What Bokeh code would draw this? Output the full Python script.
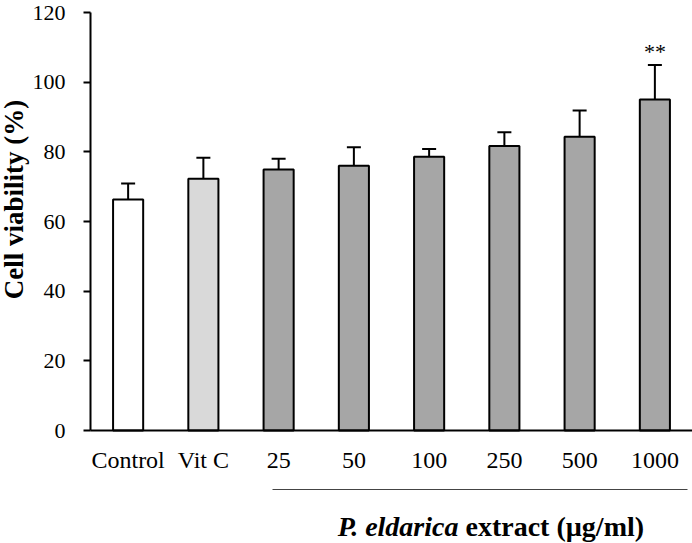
import math
from bokeh.plotting import figure
from bokeh.models import (Range1d, FixedTicker, LinearAxis, Whisker,
                          TeeHead, ColumnDataSource)
from bokeh.core.properties import value
from bokeh.embed import file_html
from bokeh.resources import INLINE

# ---- data ----
categories = ["Control", "Vit C", "25", "50", "100", "250", "500", "1000"]
viability = [66.3, 72.3, 74.9, 76.0, 78.6, 81.7, 84.3, 95.0]
sd = [4.6, 6.0, 3.1, 5.3, 2.2, 3.9, 7.6, 9.9]
fill_colors = ["#ffffff", "#d9d9d9", "#a6a6a6", "#a6a6a6",
               "#a6a6a6", "#a6a6a6", "#a6a6a6", "#a6a6a6"]
significance = ["", "", "", "", "", "", "", "**"]
y_ticks = [0, 20, 40, 60, 80, 100, 120]
group_label_italic = "P. eldarica"
group_label_rest = "extract (µg/ml)"
y_label = "Cell viability (%)"

FONT = "Liberation Serif"

# ---- layout (pixels) ----
W, H = 692, 543
AXIS_X = 90          # pixel column of the y axis
TOP_PX = 12          # pixel row of the top tick
ZERO_PX = 430        # pixel row of y = 0
n = len(categories)
px_per_cat = (W - AXIS_X) / n
px_per_unit = (ZERO_PX - TOP_PX) / (y_ticks[-1] - y_ticks[0])
x_start = -0.5 - AXIS_X / px_per_cat
y_end = y_ticks[-1] + TOP_PX / px_per_unit
y_start = -(H - ZERO_PX) / px_per_unit

xs = list(range(n))
upper = [v + e for v, e in zip(viability, sd)]
src = ColumnDataSource(dict(x=xs, top=viability, upper=upper,
                            color=fill_colors, sig=significance))

p = figure(width=W, height=H, output_backend="svg", toolbar_location=None,
           x_range=Range1d(x_start, n - 0.5),
           y_range=Range1d(y_start, y_end),
           min_border=0)
p.background_fill_color = "white"
p.border_fill_color = "white"
p.outline_line_color = None
p.grid.visible = False

p.vbar(x="x", top="top", bottom=0, width=0.4, fill_color="color",
       line_color="black", line_width=2, source=src)

wh = Whisker(source=src, base="x", upper="upper", lower="top",
             upper_head=TeeHead(size=14, line_width=2, line_color="black"),
             lower_head=None, line_width=2, line_color="black")
p.add_layout(wh)

p.text(x="x", y="upper", text="sig", source=src, text_align="center",
       text_baseline="alphabetic", y_offset=-14,
       text_font=value(FONT), text_font_size="22px", text_color="black")

# y axis, drawn at the left edge of the first category slot
yax = p.yaxis[0]
yax.fixed_location = -0.5
yax.ticker = FixedTicker(ticks=y_ticks)
yax.bounds = (y_ticks[0], y_ticks[-1])
yax.major_label_text_font = FONT
yax.major_label_text_font_size = "22px"
yax.major_label_text_color = "black"
yax.major_label_standoff = 18
yax.major_tick_out = 7
yax.major_tick_in = 0
yax.major_tick_line_width = 2
yax.minor_tick_line_color = None
yax.axis_line_width = 2
yax.axis_line_color = "black"

# y axis title
ylab_src = ColumnDataSource(dict(x=[x_start + 13 / px_per_cat],
                                 y=[(y_ticks[0] + y_ticks[-1]) / 2 + 6.3]))
p.text(x="x", y="y", text=value(y_label), source=ylab_src, angle=math.pi / 2,
       text_font=value(FONT), text_font_style="bold", text_font_size="27px",
       text_align="center", text_baseline="middle", text_color="black")

# x axis, drawn at y = 0
xax = p.xaxis[0]
xax.fixed_location = 0
xax.bounds = (-0.5, n - 0.5)
xax.ticker = FixedTicker(ticks=xs)
xax.major_label_overrides = {i: c for i, c in zip(xs, categories)}
xax.major_label_text_font = FONT
xax.major_label_text_font_size = "24px"
xax.major_label_text_color = "black"
xax.major_label_standoff = 10
xax.major_tick_line_color = None
xax.minor_tick_line_color = None
xax.axis_line_width = 2
xax.axis_line_color = "black"

# bracket line under the extract doses
bracket = LinearAxis(fixed_location=-16.9, ticker=FixedTicker(ticks=[]),
                     bounds=(1.92, 7.44),
                     axis_line_color="#444444", axis_line_width=1,
                     major_tick_line_color=None, minor_tick_line_color=None,
                     major_label_text_font_size="0px")
p.add_layout(bracket, "below")

group_src = ColumnDataSource(dict(x=[4.39], y=[-27.7]))
p.text(x="x", y="y", text=value(group_label_italic), source=group_src,
       text_font=value(FONT), text_font_style="bold italic",
       text_font_size="28px", text_align="right", text_baseline="middle",
       text_color="black")
p.text(x="x", y="y", text=value(group_label_rest), source=group_src,
       x_offset=7, text_font=value(FONT), text_font_style="bold",
       text_font_size="28px", text_align="left", text_baseline="middle",
       text_color="black")

open("out.html", "w").write(file_html(p, INLINE))
